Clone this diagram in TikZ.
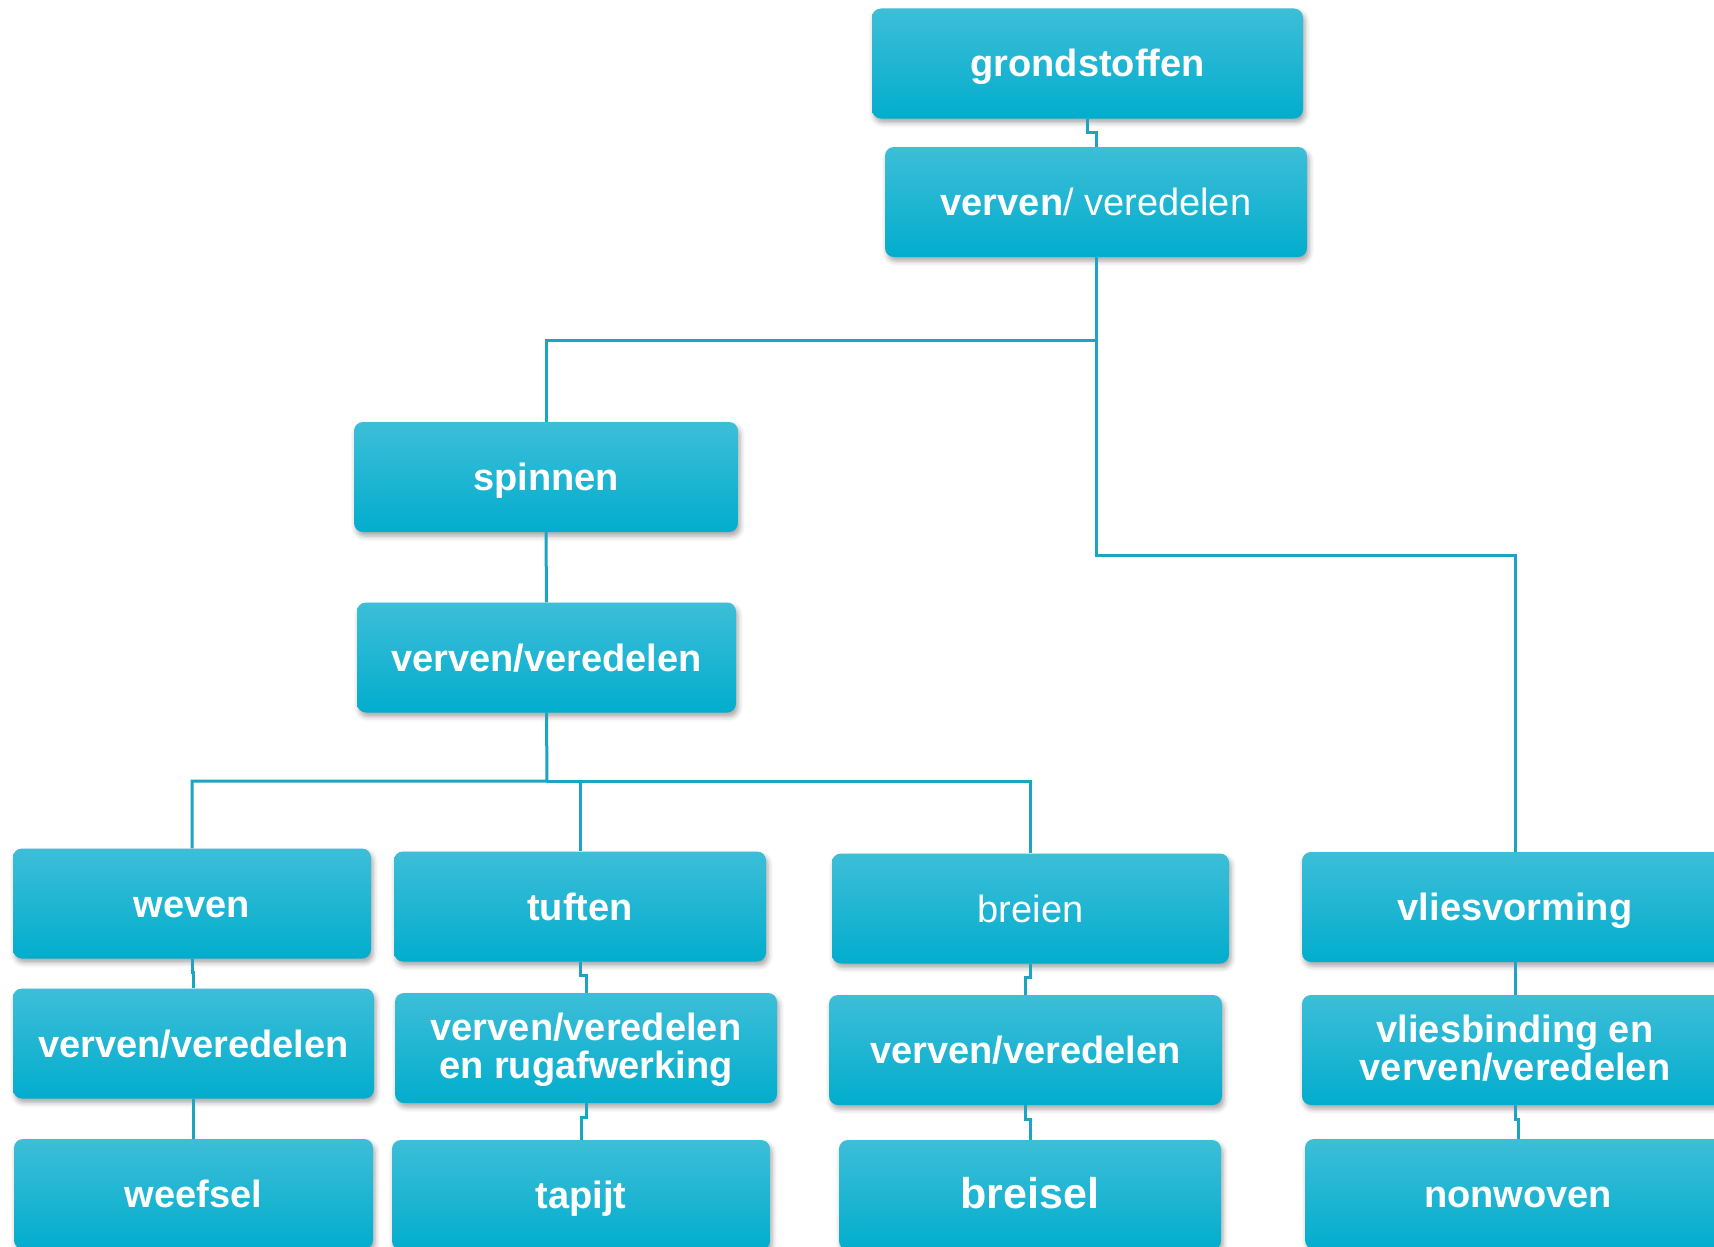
\documentclass[tikz,border=0pt]{standalone}
\usepackage{fontspec}
\setmainfont{Liberation Sans}
\usetikzlibrary{shadows.blur}
\definecolor{boxtop}{HTML}{3DBED8}
\definecolor{boxbot}{HTML}{02ADCD}
\definecolor{lijnkleur}{HTML}{1CA4C3}
\tikzset{
  proces/.style={rectangle, rounded corners=9pt, top color=boxtop, bottom color=boxbot,
    text=white, font=\fontsize{38}{38}\selectfont\bfseries, align=center,
    inner sep=0pt, minimum height=110pt, text height=35pt, text depth=8pt,
    blur shadow={shadow xshift=2pt, shadow yshift=-4pt, shadow blur radius=5pt, shadow opacity=35}},
  tweeregels/.style={text height=73pt, text depth=13pt},
  lijn/.style={draw=lijnkleur, line width=3pt}
}

\begin{document}
\begin{tikzpicture}[x=1pt, y=-1pt]
\useasboundingbox (0,0) rectangle (1714,1247);
\node[proces, minimum width=431pt] (grondstoffen) at (1087.5,63.5) {grondstoffen};
\node[proces, minimum width=422pt] (verven) at (1096,202) {verven\mdseries/ veredelen};
\node[proces, minimum width=384pt] (spinnen) at (546,477) {spinnen};
\node[proces, minimum width=379pt] (verfgaren) at (546.5,657.5) {verven/veredelen};
\node[proces, minimum width=358pt] (weven) at (192,903.5) {weven};
\node[proces, minimum width=372pt] (tuften) at (580,906.5) {tuften};
\node[proces, minimum width=397pt, font=\fontsize{38}{38}\selectfont] (breien) at (1030.5,908.5) {breien};
\node[proces, minimum width=426pt] (vliesvorming) at (1515,907) {vliesvorming};
\node[proces, minimum width=361pt] (verfweefsel) at (193.5,1043.5) {verven/veredelen};
\node[proces, tweeregels, minimum width=382pt] (verftapijt) at (586,1048) {verven/veredelen\\en rugafwerking};
\node[proces, minimum width=393pt] (verfbreisel) at (1025.5,1050) {verven/veredelen};
\node[proces, tweeregels, minimum width=426pt] (vliesbinding) at (1515,1050) {vliesbinding en\\verven/veredelen};
\node[proces, minimum width=359pt] (weefsel) at (193.5,1194) {weefsel};
\node[proces, minimum width=378pt] (tapijt) at (581,1195) {tapijt};
\node[proces, minimum width=382pt, font=\fontsize{43}{43}\selectfont\bfseries] (breisel) at (1030,1195) {breisel};
\node[proces, minimum width=426pt] (nonwoven) at (1518,1194) {nonwoven};

\coordinate (splitsA) at (1096,340);
\coordinate (splitsB) at (547,781);
\draw[lijn] (grondstoffen.south) -- ++(0,14) -| (verven.north);
\draw[lijn] (verven.south) -- (splitsA) -| (spinnen.north);
\draw[lijn] (splitsA) -- ++(0,215) -| (vliesvorming.north);
\draw[lijn] (spinnen.south) -- (verfgaren.north);
\draw[lijn] (verfgaren.south) -- (splitsB) -| (weven.north);
\draw[lijn] (splitsB) -| (tuften.north);
\draw[lijn] (splitsB) -| (breien.north);
\foreach \a/\b in {weven/verfweefsel, verfweefsel/weefsel, tuften/verftapijt, verftapijt/tapijt,
  breien/verfbreisel, verfbreisel/breisel, vliesvorming/vliesbinding, vliesbinding/nonwoven}
  \draw[lijn] (\a.south) -- ++(0,14) -| (\b.north);
\end{tikzpicture}
\end{document}
